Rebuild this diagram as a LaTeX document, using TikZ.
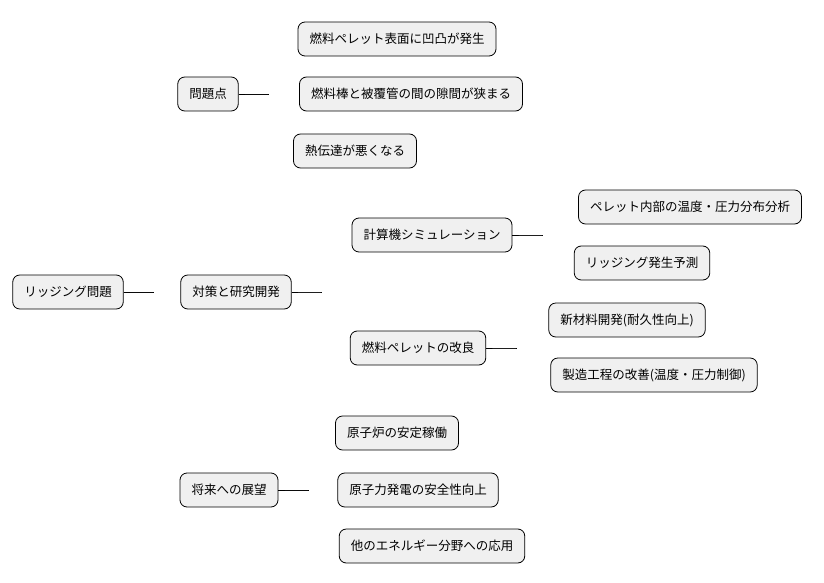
\documentclass[tikz,border=0pt]{standalone}
\usepackage{fontspec}
\setmainfont{Noto Sans CJK JP}
\usetikzlibrary{calc}
\begin{document}
\begin{tikzpicture}[x=1pt,y=-1pt,
  box/.style={draw=black,fill=black!6,rounded corners=7pt,minimum height=34pt,inner xsep=11.5pt,inner ysep=0pt,font=\fontsize{12.5}{14}\selectfont,line width=0.8pt},
  edge/.style={line width=0.7pt}]
\useasboundingbox (0,0) rectangle (824,583);
\node[box] (r) at (68,292) {リッジング問題};
\node[box] (a) at (208,94) {問題点};
\node[box] (b) at (236,292) {対策と研究開発};
\node[box] (c) at (229,490) {将来への展望};
\node[box] (a1) at (397,39) {燃料ペレット表面に凹凸が発生};
\node[box] (a2) at (411,94) {燃料棒と被覆管の間の隙間が狭まる};
\node[box] (a3) at (355,151) {熱伝達が悪くなる};
\node[box] (b1) at (432,235) {計算機シミュレーション};
\node[box] (b2) at (418,348) {燃料ペレットの改良};
\node[box] (b11) at (690,207) {ペレット内部の温度・圧力分布分析};
\node[box] (b12) at (642,263) {リッジング発生予測};
\node[box] (b21) at (627,320) {新材料開発(耐久性向上)};
\node[box] (b22) at (654,375) {製造工程の改善(温度・圧力制御)};
\node[box] (c1) at (397,433) {原子炉の安定稼働};
\node[box] (c2) at (418,490) {原子力発電の安全性向上};
\node[box] (c3) at (432,546) {他のエネルギー分野への応用};
\foreach \p/\c in {r/a,r/b,r/c,a/a1,a/a2,a/a3,b/b1,b/b2,b1/b11,b1/b12,b2/b21,b2/b22,c/c1,c/c2,c/c3}{
  \draw[edge] (\p.east) -- ++(12,0) .. controls ($(\p.east)+(30,0)$) and ($(\p.east)!0!(\c.west)+(30,0)$) .. ($(\p.east)+(30,0)$);
}
\end{tikzpicture}
\end{document}
